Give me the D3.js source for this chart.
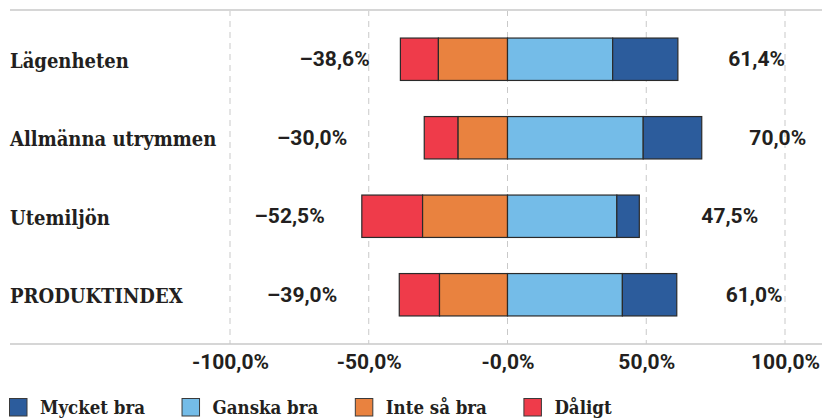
<!DOCTYPE html>
<html>
<head>
<meta charset="utf-8">
<script src="https://cdn.jsdelivr.net/npm/d3@7"></script>
<style>
  body { margin: 0; background: #fff; }
  svg { display: block; }
</style>
</head>
<body>
<div id="chart"></div>
<script>
const width = 822, height = 419;

// data (percent)
const categories = ["Lägenheten", "Allmänna utrymmen", "Utemiljön", "PRODUKTINDEX"];
const mycketBra = [23.5, 21.1, 8.1, 19.6];
const ganskaBra = [37.9, 48.9, 39.4, 41.4];
const inteSaBra = [24.9, 17.8, 30.6, 24.5];
const daligt = [13.7, 12.2, 21.9, 14.5];
// where the total labels sit, in axis units
const negLabelPos = [-62.3, -70.4, -78.5, -74.0];
const posLabelPos = [89.8, 97.4, 80.1, 88.9];
const tickValues = [-100, -50, 0, 50, 100];
const tickLabels = ["-100,0%", "-50,0%", "-0,0%", "50,0%", "100,0%"];
const seriesNames = ["Mycket bra", "Ganska bra", "Inte så bra", "Dåligt"];
const seriesColors = ["#2c5c9c", "#74bce8", "#e9823f", "#ef3b4a"];

const textColor = "#231f20";
const serif = "'DejaVu Serif Condensed', 'DejaVu Serif', serif";
const sans = "Roboto, 'Open Sans', sans-serif";

let svg = d3.select("#chart")
    .append("svg")
    .attr("width", width)
    .attr("height", height);

let x = d3.scaleLinear().domain([-100, 100]).range([230, 785]);
let y = d3.scaleBand()
    .domain(categories)
    .range([20, 334])
    .paddingInner(0.46)
    .paddingOuter(0.23);

const topY = 10, axisY = 344;

// gridlines
svg.append("g")
    .selectAll("line")
    .data(tickValues)
    .enter()
    .append("line")
    .attr("x1", d => x(d))
    .attr("x2", d => x(d))
    .attr("y1", topY)
    .attr("y2", axisY)
    .attr("stroke", "#c9c9c9")
    .attr("stroke-width", 1)
    .attr("stroke-dasharray", "6,5");

// top and bottom rules
svg.append("line")
    .attr("x1", 10).attr("x2", width)
    .attr("y1", topY).attr("y2", topY)
    .attr("stroke", "#d6d6d6").attr("stroke-width", 2);
svg.append("line")
    .attr("x1", 10).attr("x2", width)
    .attr("y1", axisY).attr("y2", axisY)
    .attr("stroke", "#c9c9c9").attr("stroke-width", 1.5);

// build segments per category
let segments = [];
categories.forEach(function(c, i) {
    let neg = inteSaBra[i] + daligt[i];
    segments.push({ cat: c, s: 3, x0: -neg, x1: -inteSaBra[i] });
    segments.push({ cat: c, s: 2, x0: -inteSaBra[i], x1: 0 });
    segments.push({ cat: c, s: 1, x0: 0, x1: ganskaBra[i] });
    segments.push({ cat: c, s: 0, x0: ganskaBra[i], x1: ganskaBra[i] + mycketBra[i] });
});

svg.append("g")
    .selectAll("rect")
    .data(segments)
    .enter()
    .append("rect")
    .attr("x", d => x(d.x0))
    .attr("y", d => y(d.cat))
    .attr("width", d => x(d.x1) - x(d.x0))
    .attr("height", y.bandwidth())
    .attr("fill", d => seriesColors[d.s])
    .attr("stroke", "#2a2a2a")
    .attr("stroke-width", 1.2);

// category labels
svg.append("g")
    .selectAll("text")
    .data(categories)
    .enter()
    .append("text")
    .attr("x", 10)
    .attr("y", d => y(d) + y.bandwidth() / 2 + 8.5)
    .style("font-family", serif)
    .style("font-stretch", "condensed")
    .style("font-weight", "bold")
    .style("font-size", "20px")
    .style("fill", textColor)
    .text(d => d);

function fmt(v) { return v.toFixed(1).replace(".", ",") + "%"; }

// total labels
svg.append("g")
    .selectAll("text")
    .data(categories)
    .enter()
    .append("text")
    .attr("x", (d, i) => x(negLabelPos[i]))
    .attr("y", d => y(d) + y.bandwidth() / 2 + 7)
    .style("text-anchor", "middle")
    .style("font-family", sans)
    .style("font-weight", "bold")
    .style("font-size", "21px")
    .style("fill", textColor)
    .text((d, i) => "–" + fmt(inteSaBra[i] + daligt[i]));

svg.append("g")
    .selectAll("text")
    .data(categories)
    .enter()
    .append("text")
    .attr("x", (d, i) => x(posLabelPos[i]))
    .attr("y", d => y(d) + y.bandwidth() / 2 + 7)
    .style("text-anchor", "middle")
    .style("font-family", sans)
    .style("font-weight", "bold")
    .style("font-size", "21px")
    .style("fill", textColor)
    .text((d, i) => fmt(ganskaBra[i] + mycketBra[i]));

// x axis
let xAxis = svg.append("g")
    .attr("transform", `translate(0, ${axisY})`)
    .call(d3.axisBottom(x)
        .tickValues(tickValues)
        .tickFormat((d, i) => tickLabels[i])
        .tickSize(0)
        .tickPadding(10.5));
xAxis.select(".domain").remove();
xAxis.selectAll("text")
    .style("font-family", sans)
    .style("font-weight", "bold")
    .style("font-size", "21px")
    .style("fill", textColor);

// legend
let legend = svg.append("g");
let lx = 9.5;
seriesNames.forEach(function(name, i) {
    legend.append("rect")
        .attr("x", lx)
        .attr("y", 398.5)
        .attr("width", 17.5)
        .attr("height", 17.5)
        .attr("fill", seriesColors[i])
        .attr("stroke", "#3a3a3a")
        .attr("stroke-width", 1);
    let t = legend.append("text")
        .attr("x", lx + 30.5)
        .attr("y", 413.5)
        .style("font-family", serif)
        .style("font-stretch", "condensed")
        .style("font-weight", "bold")
        .style("font-size", "18.5px")
        .style("fill", textColor)
        .text(name);
    lx += 30.5 + t.node().getComputedTextLength() + 37;
});
</script>
</body>
</html>
